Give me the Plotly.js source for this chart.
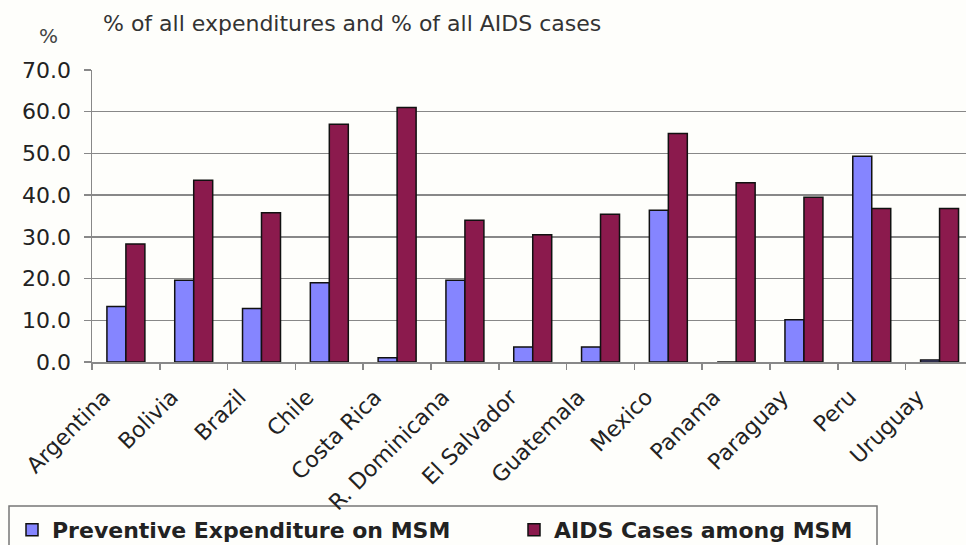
<!DOCTYPE html>
<html>
<head>
<meta charset="utf-8">
<script src="https://cdn.plot.ly/plotly-3.0.1.min.js"></script>
<style>html,body{margin:0;padding:0;background:#fefefb;}</style>
</head>
<body>
<div id="chart" style="width:966px;height:545px;"></div>
<script>
const countries = ["Argentina","Bolivia","Brazil","Chile","Costa Rica","R. Dominicana","El Salvador","Guatemala","Mexico","Panama","Paraguay","Peru","Uruguay"];
const preventiveExp = [13.3, 19.6, 12.8, 19.0, 1.0, 19.6, 3.6, 3.6, 36.4, 0.0, 10.1, 49.3, 0.5];
const aidsCases = [28.3, 43.6, 35.8, 57.0, 61.0, 34.0, 30.5, 35.4, 54.8, 43.0, 39.5, 36.8, 36.8];
const seriesNames = ["Preventive Expenditure on MSM", "AIDS Cases among MSM"];
const yTicks = [0,10,20,30,40,50,60,70];
const yTickText = yTicks.map(v => v.toFixed(1));

const font = "DejaVu Sans, sans-serif";
const W = 966, H = 545, L = 92, T = 70, B = 183;
const pw = W - L, ph = H - T - B;
const px = x => (x - L) / pw;
const py = y => (H - B - y) / ph;
const cy = y => 1 - y / H;
const cx = x => x / W;

const data = [
  {type:"bar", x:countries, y:preventiveExp, name:seriesNames[0], legend:"legend",
   marker:{color:"#8585ff", line:{color:"#111", width:1.5}}},
  {type:"bar", x:countries, y:aidsCases, name:seriesNames[1], legend:"legend2",
   marker:{color:"#8b1a4d", line:{color:"#111", width:1.5}}}
];
const legFont = {family:"DejaVu Sans", size:22, color:"#222", weight:"bold"};
const layout = {
  width:W, height:H,
  paper_bgcolor:"#fefefb", plot_bgcolor:"#fefefb",
  margin:{l:L, r:0, t:T, b:B, pad:0},
  barmode:"group", bargap:0.44, bargroupgap:0,
  font:{family:font, size:22, color:"#222"},
  title:{text:"% of all expenditures and % of all AIDS cases", xref:"container", yref:"container",
         x:103/W, xanchor:"left", y:1-23/H, yanchor:"middle",
         font:{family:font, size:22, color:"#333"}},
  xaxis:{range:[-0.5, 12.39], tickangle:-45, ticks:"outside", tickson:"boundaries",
         ticklen:6, tickcolor:"#888", tickwidth:1.5, showline:true, linecolor:"#888", linewidth:1.5,
         showgrid:false, automargin:false, ticklabelstandoff:12, ticklabelshift:-22,
         tickfont:{family:font, size:22, color:"#222"}},
  yaxis:{range:[0,70], tickvals:yTicks, ticktext:yTickText, ticks:"outside", ticklen:7,
         tickcolor:"#888", tickwidth:1.5, showline:true, linecolor:"#888", linewidth:1.5,
         showgrid:true, gridcolor:"#888", gridwidth:1.5, zeroline:false, ticklabelstandoff:8,
         automargin:false, tickfont:{family:font, size:22, color:"#222"}},
  showlegend:true,
  legend:{orientation:"h", xref:"container", yref:"container", x:cx(12), xanchor:"left",
          y:cy(530), yanchor:"middle",
          borderwidth:0, bgcolor:"rgba(0,0,0,0)", font:legFont},
  legend2:{orientation:"h", xref:"container", yref:"container", x:cx(514), xanchor:"left",
          y:cy(530), yanchor:"middle",
          borderwidth:0, bgcolor:"rgba(0,0,0,0)", font:legFont},
  shapes:[{type:"rect", xref:"paper", yref:"paper", x0:px(9), x1:px(877), y0:py(506), y1:py(560),
           line:{color:"#777", width:1.5}, fillcolor:"rgba(0,0,0,0)", layer:"below"}],
  annotations:[{text:"%", xref:"paper", yref:"paper", x:px(48), y:py(36),
               xanchor:"center", yanchor:"middle", showarrow:false,
               font:{family:font, size:20, color:"#444"}}]
};
Plotly.newPlot("chart", data, layout, {displayModeBar:false, staticPlot:true});
</script>
</body>
</html>
